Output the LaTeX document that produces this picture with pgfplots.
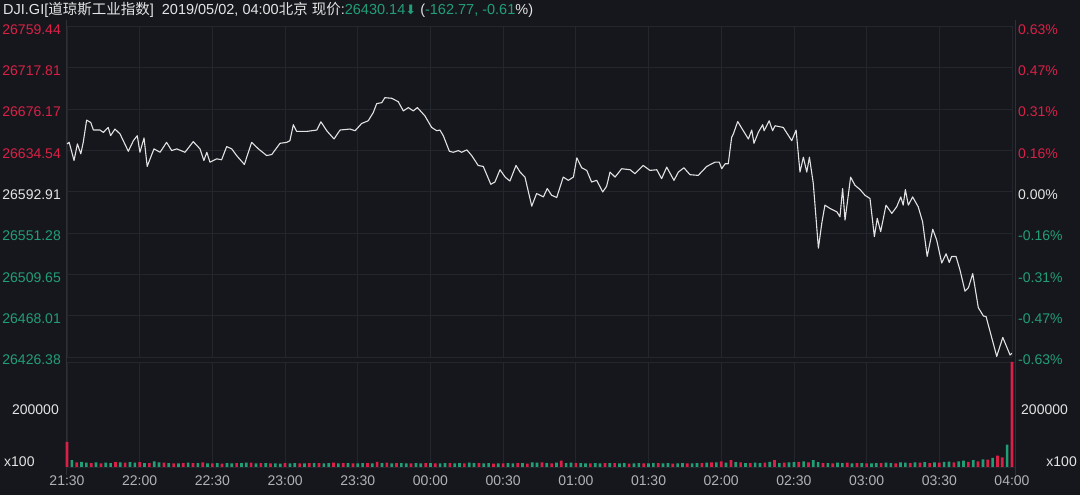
\documentclass[border=0pt]{standalone}
\usepackage{fontspec}
\setmainfont{Liberation Sans}
\newfontfamily\cjk{Noto Sans CJK SC}
\newfontfamily\sym{DejaVu Sans}
\usepackage{pgfplots}
\usepackage{pgfplotstable}
\pgfplotsset{compat=1.18}
\definecolor{bg}{RGB}{22,23,29}
\definecolor{gridc}{RGB}{36,38,46}
\definecolor{framec}{RGB}{46,48,56}
\definecolor{linec}{RGB}{226,226,226}
\definecolor{rd}{RGB}{218,32,70}
\definecolor{gn}{RGB}{34,158,118}
\definecolor{wt}{RGB}{228,228,228}
\definecolor{gy}{RGB}{178,178,182}

\pgfplotstableread{
t p
0 26641.1
0.9 26642.7
2.9 26624.4
4.3 26641.1
5.7 26631.1
6.7 26642.7
8.1 26665.1
9.8 26662.7
10.9 26655.1
13.6 26655.1
15.0 26652.7
17.0 26657.7
18.0 26649.4
19.8 26656.1
21.9 26651.1
25.3 26633.7
27.4 26644.4
29.0 26649.4
30.1 26632.7
31.8 26647.1
33.1 26618.4
34.3 26626.1
35.9 26636.1
38.4 26632.7
41.1 26642.7
43.2 26634.4
45.3 26636.1
48.7 26632.7
52.1 26643.4
54.9 26636.1
56.5 26624.4
57.7 26632.7
59.0 26622.7
61.8 26626.1
63.8 26625.1
65.9 26638.4
68.0 26636.1
70.0 26629.4
73.2 26620.4
76.2 26642.7
79.0 26636.1
82.4 26629.4
84.5 26630.4
87.9 26641.7
90.7 26642.7
92.0 26644.4
93.4 26660.4
94.8 26653.7
98.9 26653.7
103.1 26655.1
104.8 26663.4
107.2 26654.4
110.2 26646.1
112.7 26655.1
116.8 26656.1
118.9 26654.4
121.6 26661.7
124.3 26664.4
126.4 26672.7
127.8 26681.7
129.9 26682.7
131.2 26687.7
134.0 26687.1
136.7 26683.7
138.8 26674.4
140.9 26677.7
142.9 26674.4
144.6 26677.7
147.7 26669.4
150.5 26657.7
152.6 26654.4
153.9 26655.1
155.3 26649.4
157.8 26633.7
159.4 26632.7
161.5 26634.4
162.9 26632.7
165.0 26635.1
167.0 26629.4
169.7 26619.4
171.8 26618.4
174.9 26600.4
176.6 26602.7
178.7 26615.1
180.8 26607.7
182.8 26603.7
185.3 26619.4
187.0 26612.7
189.0 26607.7
191.8 26578.4
193.8 26591.1
196.6 26587.7
198.2 26596.1
200.0 26589.4
202.1 26587.1
204.8 26607.7
206.9 26604.4
209.0 26607.7
210.4 26627.1
212.4 26617.1
214.5 26614.4
216.5 26602.7
218.6 26604.4
221.1 26592.7
222.7 26598.4
224.1 26612.7
226.2 26607.7
228.9 26616.1
232.4 26615.1
234.4 26611.1
237.8 26619.4
240.6 26614.4
243.4 26615.1
245.4 26606.1
247.5 26617.7
250.5 26604.4
252.3 26612.7
254.6 26617.1
257.1 26610.1
260.5 26609.4
264.0 26618.4
267.4 26622.7
269.2 26622.7
270.2 26616.1
271.6 26621.1
272.9 26621.1
274.3 26647.7
275.0 26651.1
276.8 26663.7
279.1 26654.4
281.2 26646.1
282.6 26655.1
283.5 26641.7
285.3 26652.7
287.1 26660.4
287.7 26654.4
289.8 26664.4
291.2 26654.4
292.2 26659.4
295.6 26657.7
299.1 26644.4
300.9 26655.1
302.5 26612.7
303.9 26627.7
305.3 26612.7
306.4 26627.7
308.0 26601.1
310.1 26536.1
311.5 26561.1
312.8 26579.4
314.9 26576.1
317.7 26572.7
319.0 26567.7
320.1 26596.1
321.1 26564.4
323.4 26607.7
325.2 26599.4
327.3 26595.1
329.3 26589.4
331.4 26586.1
333.2 26547.7
334.4 26566.1
335.8 26552.7
338.0 26579.4
340.4 26571.1
342.4 26577.7
344.1 26587.7
345.1 26579.4
346.0 26595.1
347.2 26579.4
349.0 26587.7
351.3 26577.7
353.1 26562.7
355.0 26527.7
357.3 26555.1
358.9 26544.4
361.0 26521.1
362.8 26530.4
364.1 26521.7
365.1 26527.7
366.9 26527.7
368.5 26514.4
370.6 26492.7
372.0 26496.1
373.8 26510.4
376.1 26476.1
378.2 26467.7
379.3 26467.1
383.7 26427.0
386.2 26446.1
389.2 26428.4
390 26430.14
}\price

\pgfplotstableread{
t v
0 88000
4 16000
10 14000
14 13000
20 17000
24 15000
30 17000
34 14000
40 15000
44 13000
48 14000
52 14000
56 16000
60 13000
64 12000
70 14000
76 15000
80 14000
84 13000
90 14000
96 13000
100 14000
104 14000
110 15000
114 14000
118 13000
124 14000
128 18000
132 15000
136 14000
142 13000
148 14000
152 13000
158 14000
164 13000
170 14000
176 12000
180 13000
186 14000
190 12000
196 16000
200 13000
204 22000
210 14000
216 13000
222 14000
226 14000
232 12000
238 13000
244 14000
250 12000
256 13000
262 14000
266 16000
270 20000
274 24000
278 16000
282 14000
288 15000
292 24000
296 15000
302 18000
306 16000
312 14000
316 13000
322 15000
326 14000
330 13000
336 14000
342 13000
348 14000
352 15000
356 14000
360 15000
366 16000
372 18000
376 20000
380 26000
384 40000
386 34000
390 368000
}\volred

\pgfplotstableread{
t v
2 24000
6 18000
8 15000
12 16000
16 15000
18 14000
22 16000
26 17000
28 15000
32 14000
36 20000
38 16000
42 14000
46 13000
50 15000
54 14000
58 13000
62 14000
66 14000
68 13000
72 14000
74 15000
78 13000
82 14000
86 13000
88 12000
92 13000
94 14000
98 13000
102 14000
106 13000
108 14000
112 13000
116 14000
120 13000
122 14000
126 13000
130 14000
134 13000
138 14000
140 13000
144 14000
146 13000
150 14000
154 13000
156 14000
160 13000
162 14000
166 15000
168 14000
172 13000
174 14000
178 13000
182 14000
184 13000
188 14000
192 16000
194 15000
198 14000
202 15000
206 14000
208 15000
212 14000
214 13000
218 14000
220 13000
224 14000
228 13000
230 14000
234 13000
236 14000
240 13000
242 14000
246 13000
248 14000
252 13000
254 14000
258 13000
260 14000
264 15000
268 16000
272 15000
276 17000
280 14000
284 15000
286 14000
290 18000
294 14000
298 16000
300 17000
304 20000
308 24000
310 17000
314 14000
318 15000
320 14000
324 13000
328 14000
332 13000
334 14000
338 15000
340 14000
344 16000
346 15000
350 16000
354 17000
358 16000
362 18000
364 19000
368 20000
370 22000
374 24000
378 27000
382 32000
388 78000
}\volgreen

\begin{document}
\begin{tikzpicture}[x=1pt,y=1pt]
\useasboundingbox (0,0) rectangle (1080,495);
\fill[bg] (0,0) rectangle (1080,495);
% frame lines
\draw[framec, line width=0.8pt] (66.5,20) -- (66.5,475);
\draw[framec, line width=0.8pt] (1015,20) -- (1015,475);
\draw[gridc, line width=0.8pt] (66.5,133) -- (1015,133);
\draw[gridc, line width=0.8pt] (66.5,28) -- (1015,28);

% price panel (left labels)
\begin{axis}[
  at={(67pt,138pt)}, anchor=south west, scale only axis,
  width=945pt, height=330.5pt,
  xmin=0, xmax=390, ymin=26426.38, ymax=26759.44,
  xtick={0,30,...,390}, xticklabels={},
  ytick={26426.38,26468.01,26509.65,26551.28,26592.91,26634.54,26676.17,26717.81,26759.44},
  yticklabels={\textcolor{gn}{26426.38},\textcolor{gn}{26468.01},\textcolor{gn}{26509.65},\textcolor{gn}{26551.28},\textcolor{wt}{26592.91},\textcolor{rd}{26634.54},\textcolor{rd}{26676.17},\textcolor{rd}{26717.81},\textcolor{rd}{26759.44}},
  scaled y ticks=false,
  grid=major, grid style={gridc, line width=0.8pt},
  axis line style={draw=none}, major tick length=0pt,
  tick label style={font=\fontsize{14}{16}\selectfont},
  yticklabel style={anchor=east, inner sep=0pt, xshift=-6pt, yshift=-3pt},
]
\addplot[linec, line width=1.1pt, line join=round] table[x=t,y=p]{\price};
\end{axis}

% price panel (right labels)
\begin{axis}[
  at={(67pt,138pt)}, anchor=south west, scale only axis,
  width=945pt, height=330.5pt,
  xmin=0, xmax=390, ymin=26426.38, ymax=26759.44,
  xtick=\empty,
  yticklabel pos=right,
  ytick={26426.38,26468.01,26509.65,26551.28,26592.91,26634.54,26676.17,26717.81,26759.44},
  yticklabels={\textcolor{gn}{-0.63\%},\textcolor{gn}{-0.47\%},\textcolor{gn}{-0.31\%},\textcolor{gn}{-0.16\%},\textcolor{wt}{0.00\%},\textcolor{rd}{0.16\%},\textcolor{rd}{0.31\%},\textcolor{rd}{0.47\%},\textcolor{rd}{0.63\%}},
  scaled y ticks=false,
  axis line style={draw=none}, major tick length=0pt,
  tick label style={font=\fontsize{14}{16}\selectfont},
  yticklabel style={anchor=west, inner sep=0pt, xshift=6pt, yshift=-3pt},
]
\addplot[draw=none] table[x=t,y=p]{\price};
\end{axis}

% volume panel
\begin{axis}[
  at={(67pt,28pt)}, anchor=south west, scale only axis,
  width=945pt, height=105pt,
  xmin=0, xmax=390, ymin=0, ymax=368000, clip=false,
  xtick={0,30,...,390},
  xticklabels={21:30,22:00,22:30,23:00,23:30,00:00,00:30,01:00,01:30,02:00,02:30,03:00,03:30,04:00},
  ytick={200000}, yticklabels={200000},
  xmajorgrids, grid style={gridc, line width=0.8pt},
  axis line style={draw=none}, major tick length=0pt,
  tick label style={font=\fontsize{14}{16}\selectfont},
  xticklabel style={anchor=north, inner sep=0pt, yshift=-9pt, text=gy},
  yticklabel style={anchor=east, inner sep=0pt, xshift=-8pt, text=wt},
  scaled y ticks=false,
]
\addplot[ybar, bar width=1.1, bar shift=0pt, fill=gn, draw=none] table[x=t,y=v]{\volgreen};
\addplot[ybar, bar width=1.1, bar shift=0pt, fill=rd, draw=none] table[x=t,y=v]{\volred};
\node[anchor=west, inner sep=0pt, text=wt, font=\fontsize{14}{16}\selectfont] at (axis cs:390,200000) [xshift=9pt] {200000};
\end{axis}

\node[anchor=west, inner sep=0pt, text=wt, font=\fontsize{14}{16}\selectfont] at (4,33) {x100};
\node[anchor=east, inner sep=0pt, text=wt, font=\fontsize{14}{16}\selectfont] at (1077,33) {x100};

% header
\node[anchor=west, inner sep=0pt, text=wt, font=\fontsize{14.5}{17}\selectfont] at (3,485)
  {DJI.GI[{\cjk 道琼斯工业指数}]\ \ 2019/05/02, 04:00{\cjk 北京} {\cjk 现价}:\textcolor{gn}{26430.14{\sym\fontsize{13}{15}\selectfont ⬇}}\ (\textcolor{gn}{-162.77, -0.61}\%)};
\end{tikzpicture}
\end{document}
